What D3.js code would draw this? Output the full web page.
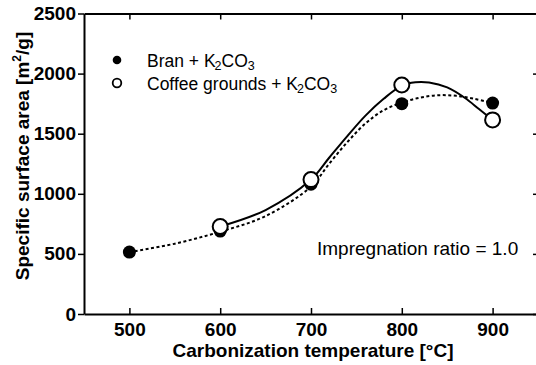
<!DOCTYPE html>
<html><head><meta charset="utf-8">
<script src="https://cdn.jsdelivr.net/npm/d3@7"></script>
<style>body{margin:0;background:#fff}svg{display:block}</style>
</head><body>
<script>
// ---- data ----
const temps = [500, 600, 700, 800, 900];
const branValues = [515, 690, 1080, 1750, 1755];
const coffeeTemps = [600, 700, 800, 900];
const coffeeValues = [728, 1118, 1905, 1615];
// fitted curves
const branFitTemps = [500, 550, 600, 650, 700, 720, 740, 760, 780, 800, 820, 840, 860, 880, 900];
const branFitValues = [515, 585, 685, 815, 1060, 1250, 1430, 1585, 1695, 1758, 1800, 1820, 1815, 1790, 1755];
const coffeeFitTemps = [600, 650, 700, 720, 740, 760, 780, 800, 815, 830, 850, 870, 885, 900];
const coffeeFitValues = [728, 865, 1118, 1300, 1480, 1650, 1790, 1900, 1928, 1926, 1885, 1795, 1705, 1615];
const xTicks = [500, 600, 700, 800, 900];
const yTicks = [0, 500, 1000, 1500, 2000, 2500];

const W = 536, H = 365;
const m = {left: 84, right: 538, top: 13.5, bottom: 314};
const svg = d3.select("body").append("svg").attr("width", W).attr("height", H);
const x = d3.scaleLinear().domain([450, 950]).range([m.left, m.right]);
const y = d3.scaleLinear().domain([0, 2500]).range([m.bottom, m.top]);
const font = "'Liberation Sans', Arial, Helvetica, sans-serif";
const fmt = d3.format("d");

// axes
const gx = svg.append("g").attr("transform", `translate(0,${m.bottom})`)
  .call(d3.axisBottom(x).tickValues(xTicks).tickFormat(fmt).tickSizeInner(-6).tickSizeOuter(0).tickPadding(16));
const gxt = svg.append("g").attr("transform", `translate(0,${m.top})`)
  .call(d3.axisTop(x).tickValues(xTicks).tickSizeInner(-6).tickSizeOuter(0).tickFormat(""));
const gy = svg.append("g").attr("transform", `translate(${m.left},0)`)
  .call(d3.axisLeft(y).tickValues(yTicks).tickFormat(fmt).tickSizeInner(6).tickSizeOuter(0).tickPadding(2));
const gyr = svg.append("g").attr("transform", `translate(${m.right},0)`)
  .call(d3.axisRight(y).tickValues(yTicks).tickSizeInner(-5).tickSizeOuter(0).tickFormat(""));
[gx, gxt, gy, gyr].forEach(g => {
  g.select(".domain").attr("stroke", "#000").attr("stroke-width", 2);
  g.selectAll(".tick line").attr("stroke", "#000").attr("stroke-width", 1.5);
  g.selectAll("text").attr("font-family", font).attr("font-size", 19).attr("font-weight", "bold").attr("fill", "#000");
});
gx.selectAll("text").attr("dy", "0.32em");

// axis titles
svg.append("text").attr("x", (m.left + m.right) / 2 + 2).attr("y", 357)
  .attr("text-anchor", "middle").attr("font-family", font).attr("font-size", 19).attr("font-weight", "bold")
  .text("Carbonization temperature [°C]");
const yt = svg.append("text").attr("transform", `translate(29,156) rotate(-90)`)
  .attr("text-anchor", "middle").attr("font-family", font).attr("font-size", 19).attr("font-weight", "bold");
yt.append("tspan").text("Specific surface area [m");
yt.append("tspan").attr("font-size", 12).attr("dy", -8).text("2");
yt.append("tspan").attr("dy", 8).text("/g]");

// curves
const line = d3.line().curve(d3.curveCatmullRom.alpha(0.5)).x(d => x(d[0])).y(d => y(d[1]));
svg.append("path").datum(d3.zip(branFitTemps, branFitValues)).attr("d", line)
  .attr("fill", "none").attr("stroke", "#000").attr("stroke-width", 2).attr("stroke-dasharray", "3,2.5");
svg.append("path").datum(d3.zip(coffeeFitTemps, coffeeFitValues)).attr("d", line)
  .attr("fill", "none").attr("stroke", "#000").attr("stroke-width", 2);

// points
svg.selectAll(".bran").data(d3.zip(temps, branValues)).join("circle")
  .attr("cx", d => x(d[0])).attr("cy", d => y(d[1])).attr("r", 6.5).attr("fill", "#000");
svg.selectAll(".coffee").data(d3.zip(coffeeTemps, coffeeValues)).join("circle")
  .attr("cx", d => x(d[0])).attr("cy", d => y(d[1])).attr("r", 7.5)
  .attr("fill", "#fff").attr("stroke", "#000").attr("stroke-width", 2);

// legend
svg.append("circle").attr("cx", 117).attr("cy", 60).attr("r", 4.3).attr("fill", "#000");
svg.append("circle").attr("cx", 117).attr("cy", 83).attr("r", 4.3).attr("fill", "#fff").attr("stroke", "#000").attr("stroke-width", 1.8);
function legendText(yy, label) {
  const t = svg.append("text").attr("x", 147).attr("y", yy).attr("font-family", font).attr("font-size", 17.5);
  t.append("tspan").text(label + " + K");
  t.append("tspan").attr("font-size", 12.5).attr("dx", -1).attr("dy", 3).text("2");
  t.append("tspan").attr("dy", -3).text("CO");
  t.append("tspan").attr("font-size", 12.5).attr("dy", 3).text("3");
}
legendText(66.5, "Bran");
legendText(89.5, "Coffee grounds");

svg.append("text").attr("x", 317).attr("y", 255).attr("font-family", font).attr("font-size", 19)
  .text("Impregnation ratio = 1.0");
</script>
</body></html>
